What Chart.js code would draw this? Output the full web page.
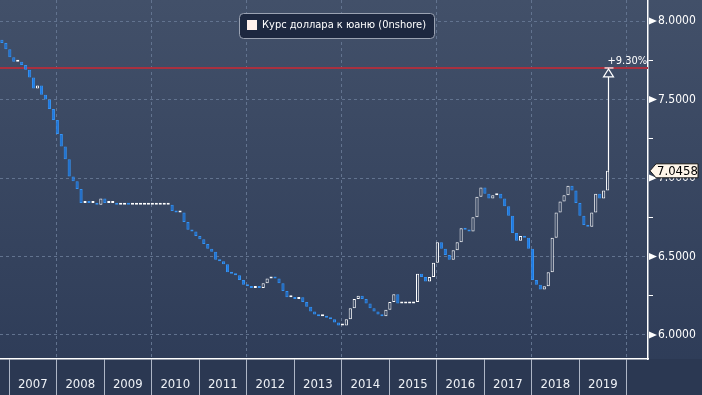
<!DOCTYPE html>
<html><head><meta charset="utf-8">
<script src="https://cdn.jsdelivr.net/npm/chart.js@4.4.1/dist/chart.umd.min.js"></script>
<style>html,body{margin:0;padding:0;background:#2c3a55;}#wrap{width:702px;height:395px;position:relative;}</style>
</head><body><div id="wrap"><canvas id="c"></canvas></div>
<script>
// ---- data ----
const seriesName = 'Курс доллара к юаню (0nshore)';
const firstMonth = [2006, 11];      // first monthly candle
const firstOpen = 7.88;
const closes2006 = [7.86, 7.82];
const closes2007 = [7.77, 7.74, 7.74, 7.72, 7.69, 7.64, 7.57, 7.59, 7.53, 7.50, 7.44, 7.37];
const closes2008 = [7.28, 7.20, 7.12, 7.01, 6.98, 6.93, 6.84, 6.85, 6.84, 6.84, 6.83, 6.87];
const closes2009 = [6.84, 6.84, 6.84, 6.83, 6.83, 6.84, 6.83, 6.83, 6.83, 6.83, 6.83, 6.83];
const closes2010 = [6.83, 6.83, 6.83, 6.83, 6.83, 6.79, 6.78, 6.78, 6.72, 6.67, 6.66, 6.63];
const closes2011 = [6.61, 6.58, 6.55, 6.53, 6.48, 6.47, 6.45, 6.40, 6.39, 6.38, 6.35, 6.32];
const closes2012 = [6.31, 6.30, 6.31, 6.30, 6.33, 6.36, 6.37, 6.36, 6.33, 6.28, 6.24, 6.24];
const closes2013 = [6.23, 6.24, 6.21, 6.18, 6.15, 6.13, 6.12, 6.12, 6.11, 6.10, 6.08, 6.06];
const closes2014 = [6.06, 6.10, 6.17, 6.23, 6.25, 6.23, 6.20, 6.17, 6.15, 6.13, 6.12, 6.16];
const closes2015 = [6.21, 6.26, 6.20, 6.20, 6.20, 6.20, 6.21, 6.39, 6.37, 6.34, 6.37, 6.46];
const closes2016 = [6.59, 6.55, 6.51, 6.48, 6.54, 6.59, 6.68, 6.67, 6.66, 6.75, 6.88, 6.94];
const closes2017 = [6.90, 6.87, 6.89, 6.90, 6.87, 6.82, 6.76, 6.65, 6.60, 6.63, 6.62, 6.55];
const closes2018 = [6.35, 6.32, 6.29, 6.31, 6.40, 6.62, 6.78, 6.85, 6.89, 6.95, 6.92, 6.84];
const closes2019 = [6.76, 6.70, 6.69, 6.78, 6.90, 6.87, 6.92, 7.0458];
const yearLabels = ['2007','2008','2009','2010','2011','2012','2013','2014','2015','2016','2017','2018','2019'];
const gridYears = [2008, 2010, 2012, 2014, 2016, 2018, 2020];
const yMajorTicks = [6.0, 6.5, 7.0, 7.5, 8.0];
const yMinorTicks = [6.25, 6.75, 7.25, 7.75];
const targetPct = 9.30;
const targetLabel = '+9.30%';

// ---- derived ----
const closes = [].concat(closes2006, closes2007, closes2008, closes2009, closes2010, closes2011,
  closes2012, closes2013, closes2014, closes2015, closes2016, closes2017, closes2018, closes2019);
const opens = closes.map((c, i) => i === 0 ? firstOpen : closes[i - 1]);
const times = closes.map((c, i) => {
  const m = firstMonth[1] - 1 + i;
  return firstMonth[0] + Math.floor(m / 12) + ((m % 12) + 0.2) / 12;
});
const lastClose = closes[closes.length - 1];
const lastTime = times[times.length - 1];
const target = lastClose * (1 + targetPct / 100);
const candles = closes.map((c, i) => ({ x: times[i], y: [opens[i], c] }));

const xMin = 2006.81, xMax = 2020.45, yMin = 5.847, yMax = 8.134;
const yearBounds = yearLabels.map(Number).concat([Number(yearLabels[yearLabels.length - 1]) + 1]);
const xTickValues = yearBounds.concat(yearLabels.map(y => Number(y) + 0.5)).sort((a, b) => a - b);
const yTickValues = yMajorTicks.concat(yMinorTicks).sort((a, b) => a - b);
const isInt = v => Math.abs(v - Math.round(v)) < 1e-6;
const isMajorY = v => yMajorTicks.some(t => Math.abs(t - v) < 1e-6);
const tv = c => (c && c.tick ? c.tick.value : null);

const UP_FILL = '#34435f', UP_LINE = '#ffffff', DN_FILL = '#1c7ae6', DN_LINE = '#3592f2';
const GRID = '#62738f';
const FONT_C = '"DejaVu Sans Condensed", "DejaVu Sans", sans-serif';

const bgPlugin = {
  id: 'bg',
  beforeDraw(chart) {
    const { ctx, width, height, chartArea } = chart;
    const g = ctx.createLinearGradient(0, 0, 0, height);
    g.addColorStop(0, '#425069');
    g.addColorStop(1, '#2d3b57');
    ctx.save();
    ctx.fillStyle = g;
    ctx.fillRect(0, 0, width, height);
    ctx.fillStyle = '#2b3852';
    ctx.fillRect(0, chartArea.bottom, width, height - chartArea.bottom);
    ctx.restore();
  }
};

const overlayPlugin = {
  id: 'overlay',
  afterDraw(chart) {
    const { ctx } = chart;
    const xs = chart.scales.x, ys = chart.scales.y;
    ctx.save();
    // y-axis major tick arrows
    ctx.fillStyle = '#ffffff';
    yMajorTicks.forEach(v => {
      const y = ys.getPixelForValue(v);
      ctx.beginPath();
      ctx.moveTo(ys.left + 1, y - 3.5);
      ctx.lineTo(ys.left + 9, y);
      ctx.lineTo(ys.left + 1, y + 3.5);
      ctx.closePath();
      ctx.fill();
    });
    // last value box
    const yl = ys.getPixelForValue(lastClose);
    const bx = ys.left + 2;
    ctx.beginPath();
    ctx.moveTo(bx, yl);
    ctx.lineTo(bx + 6, yl - 7);
    ctx.lineTo(bx + 48, yl - 7);
    ctx.lineTo(bx + 48, yl + 7);
    ctx.lineTo(bx + 6, yl + 7);
    ctx.closePath();
    ctx.fillStyle = '#fff6ea';
    ctx.fill();
    ctx.strokeStyle = '#1a1a1a';
    ctx.lineWidth = 1;
    ctx.stroke();
    ctx.fillStyle = '#000000';
    ctx.font = '13px ' + FONT_C;
    ctx.textBaseline = 'middle';
    ctx.textAlign = 'left';
    ctx.fillText(lastClose.toFixed(4), bx + 7, yl + 0.5);

    // annotation arrow
    const xp = Math.round(xs.getPixelForValue(lastTime)) + 0.5;
    const yT = ys.getPixelForValue(target);
    const yS = ys.getPixelForValue(lastClose);
    ctx.strokeStyle = '#ffffff';
    ctx.lineWidth = 1.2;
    ctx.beginPath();
    ctx.moveTo(xp, yS);
    ctx.lineTo(xp, yT + 9);
    ctx.stroke();
    ctx.beginPath();
    ctx.moveTo(xp, yT + 1);
    ctx.lineTo(xp - 5, yT + 9);
    ctx.lineTo(xp + 5, yT + 9);
    ctx.closePath();
    ctx.fillStyle = '#3d4b66';
    ctx.fill();
    ctx.stroke();
    ctx.beginPath();
    ctx.moveTo(xp - 4, yT);
    ctx.lineTo(xp + 5, yT);
    ctx.stroke();
    ctx.fillStyle = '#ffffff';
    ctx.font = '11px ' + FONT_C;
    ctx.fillText(targetLabel, xp - 1, yT - 7);

    // legend
    const lx = 239.5, ly = 13.5, lw = 195, lh = 25;
    ctx.beginPath();
    if (ctx.roundRect) ctx.roundRect(lx, ly, lw, lh, 4); else ctx.rect(lx, ly, lw, lh);
    ctx.fillStyle = '#1d2840';
    ctx.fill();
    ctx.strokeStyle = '#9aa2b2';
    ctx.lineWidth = 1;
    ctx.stroke();
    ctx.fillStyle = '#fff1ec';
    ctx.fillRect(247, 20, 10, 10);
    ctx.fillStyle = '#ffffff';
    ctx.font = '11px ' + FONT_C;
    ctx.fillText(seriesName, 262, 25.5);
    ctx.restore();
  }
};

new Chart(document.getElementById('c'), {
  type: 'bar',
  data: {
    datasets: [
      {
        type: 'bar',
        label: seriesName,
        data: candles,
        backgroundColor: c => (closes[c.dataIndex] >= opens[c.dataIndex] ? UP_FILL : DN_FILL),
        borderColor: c => (closes[c.dataIndex] >= opens[c.dataIndex] ? UP_LINE : DN_LINE),
        borderWidth: 1,
        borderSkipped: false,
        barPercentage: 1,
        categoryPercentage: 0.8,
        minBarLength: 2,
        order: 1
      },
      {
        type: 'line',
        label: 'target',
        data: [{ x: xMin, y: target }, { x: xMax, y: target }],
        borderColor: '#a8303f',
        borderWidth: 2,
        pointRadius: 0,
        order: 2
      }
    ]
  },
  options: {
    responsive: true,
    maintainAspectRatio: false,
    animation: false,
    events: [],
    layout: { padding: 0 },
    plugins: { legend: { display: false }, tooltip: { enabled: false } },
    scales: {
      x: {
        type: 'linear', min: xMin, max: xMax, offset: false,
        afterBuildTicks: s => { s.ticks = xTickValues.map(v => ({ value: v })); },
        afterFit: s => { s.height = 36; s.paddingLeft = 0; s.paddingRight = 0; },
        ticks: {
          autoSkip: false, maxRotation: 0, minRotation: 0, padding: -18,
          color: '#eef1f6', font: { family: FONT_C, size: 13 },
          callback: v => (isInt(v) ? '' : String(Math.floor(v)))
        },
        grid: {
          offset: false,
          drawOnChartArea: false,
          color: 'transparent',
          tickColor: c => { const v = tv(c); return v !== null && isInt(v) ? '#aeb6c6' : 'transparent'; },
          tickLength: 36, lineWidth: 1, tickWidth: 1, tickBorderDash: [],
          drawTicks: true
        },
        border: { display: true, color: '#ffffff', width: 1.5 }
      },
      xGrid: {
        type: 'linear', position: 'top', axis: 'x', min: xMin, max: xMax, offset: false,
        afterBuildTicks: s => { s.ticks = gridYears.map(v => ({ value: v })); },
        afterFit: s => { s.height = 0; s.paddingLeft = 0; s.paddingRight = 0; },
        ticks: { display: false, autoSkip: false },
        grid: { offset: false, drawTicks: false, drawOnChartArea: true, color: GRID, lineWidth: 1 },
        border: { display: false, dash: [3, 3] }
      },
      y: {
        type: 'linear', position: 'right', min: yMin, max: yMax,
        afterBuildTicks: s => { s.ticks = yTickValues.map(v => ({ value: v })); },
        afterFit: s => { s.width = 54; s.paddingTop = 0; s.paddingBottom = 0; },
        ticks: {
          autoSkip: false, padding: 5, color: '#ffffff',
          font: { family: FONT_C, size: 12 },
          callback: v => (isMajorY(v) ? v.toFixed(4) : '')
        },
        grid: {
          offset: false,
          color: c => { const v = tv(c); return v !== null && isMajorY(v) ? GRID : 'transparent'; },
          tickColor: c => { const v = tv(c); return v !== null && !isMajorY(v) ? '#ffffff' : 'transparent'; },
          tickLength: 5, lineWidth: 1, tickWidth: 1, tickBorderDash: []
        },
        border: { display: true, color: '#ffffff', width: 1.5, dash: [3, 3] }
      }
    }
  },
  plugins: [bgPlugin, overlayPlugin]
});
</script>
</body></html>
